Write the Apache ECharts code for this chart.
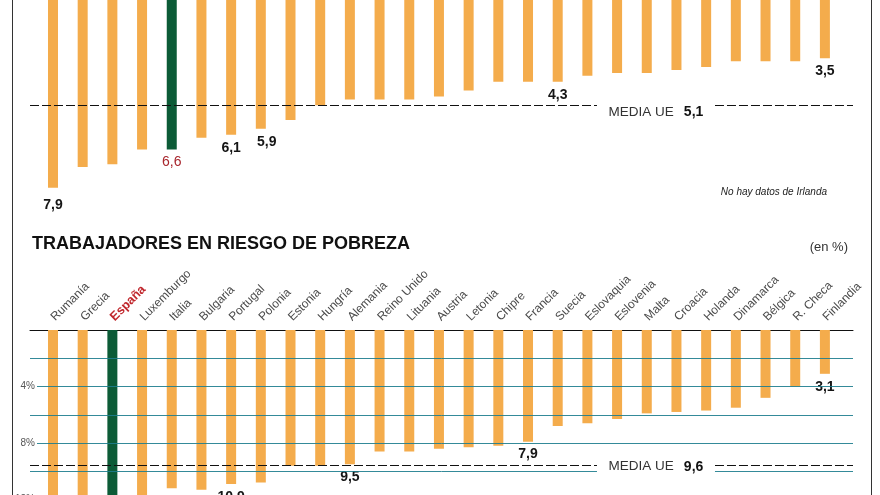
<!DOCTYPE html>
<html><head><meta charset="utf-8">
<script src="https://cdn.jsdelivr.net/npm/echarts@6/dist/echarts.min.js"></script>
<style>html,body{margin:0;padding:0;background:#fff}#c{width:880px;height:495px}</style>
</head><body><div id="c"></div>
<script>
// ---- Top panel (categories cropped out of the picture) ----
const topValues = [7.9, 7.2, 7.1, 6.6, 6.6, 6.2, 6.1, 5.9, 5.6, 5.1, 4.9, 4.9, 4.9, 4.8, 4.6, 4.3, 4.3, 4.3, 4.1, 4.0, 4.0, 3.9, 3.8, 3.6, 3.6, 3.6, 3.5];
const topLabeled = [0, 4, 6, 7, 17, 26];
const topHighlight = 4;
const topEuAverage = 5.1;
const topNote = 'No hay datos de Irlanda';

// ---- Bottom panel: trabajadores en riesgo de pobreza (%) ----
const countries = ['Rumanía','Grecia','España','Luxemburgo','Italia','Bulgaria','Portugal','Polonia','Estonia','Hungría','Alemania','Reino Unido','Lituania','Austria','Letonia','Chipre','Francia','Suecia','Eslovaquia','Eslovenia','Malta','Croacia','Holanda','Dinamarca','Bélgica','R. Checa','Finlandia'];
const workerValues = [18.9, 14.1, 13.1, 12.0, 11.2, 11.3, 10.9, 10.8, 9.6, 9.6, 9.5, 8.6, 8.6, 8.4, 8.3, 8.2, 7.9, 6.8, 6.6, 6.3, 5.9, 5.8, 5.7, 5.5, 4.8, 4.0, 3.1];
const workerLabeled = [6, 10, 16, 26];
const workerHighlight = 2;
const workerEuAverage = 9.6;
const workerTickLabels = [4, 8, 12];
const title = 'TRABAJADORES EN RIESGO DE POBREZA';
const unitNote = '(en %)';
const avgText = 'MEDIA UE';

// ---- styles / layout ----
const ORANGE = '#F4AC4C', GREEN = '#0C5B37', RED = '#A8262D', TEAL = 'rgba(30,125,142,0.9)';
const FONT = '"Liberation Sans", Arial, sans-serif';
const fmt = v => v.toFixed(1).replace('.', ',');
const LINE_LEFT = 30, LINE_W = 823;
const BAR_LEFT = 38.15, BAR_W = 801.6;
const TOP_TOP = -44.8, TOP_MAX = 8, TOP_PX = 29.43;
const BOT_TOP = 330, BOT_MAX = 12, BOT_PX = 14.13;
const GAP_FROM = 0.689, GAP_TO = 0.8323, GAP_MID = 0.7606;
const topLabelTweak = {0: {distance: 10}, 7: {offset: [6, 0]}};

function makeBarData(values, labeled, hi, tweak) {
  return values.map((v, i) => {
    const item = {value: v, itemStyle: {color: i === hi ? GREEN : ORANGE}};
    if (labeled.includes(i)) {
      item.label = Object.assign({
        show: true, position: 'bottom', distance: 6,
        color: i === hi ? RED : '#151515',
        fontWeight: i === hi ? 'normal' : 'bold',
        fontSize: 14, fontFamily: FONT,
        formatter: p => fmt(p.value)
      }, (tweak && tweak[i]) || {});
    }
    return item;
  });
}

function avgMarkers(value, labelOffset, boxH) {
  return {
    markLine: {
      silent: true, symbol: ['none', 'none'], animation: false,
      lineStyle: {type: [9, 3], color: '#111', width: 1},
      label: {show: false},
      data: [
        [{coord: [0, value]}, {coord: [GAP_FROM, value]}],
        [{coord: [GAP_TO, value]}, {coord: [1, value]}]
      ]
    },
    markPoint: {
      silent: true, animation: false,
      symbol: 'rect', symbolSize: [118, boxH],
      itemStyle: {color: '#fff'},
      label: {
        show: true, position: 'inside', offset: labelOffset,
        formatter: '{a|' + avgText + '}   {b|' + fmt(value) + '}',
        rich: {
          a: {fontSize: 13.5, color: '#333', fontFamily: FONT},
          b: {fontSize: 14, color: '#111', fontWeight: 'bold', fontFamily: FONT}
        }
      },
      data: [{coord: [GAP_MID, value]}]
    }
  };
}

const gridBase = {outerBoundsMode: 'none', containLabel: false};
const chart = echarts.init(document.getElementById('c'), null, {renderer: 'canvas'});
chart.setOption({
  animation: false,
  backgroundColor: '#fff',
  title: [
    {text: title, left: 27, top: 230, textStyle: {fontSize: 18, fontWeight: 'bold', color: '#111', fontFamily: FONT}},
    {text: unitNote, right: 27, top: 236, textStyle: {fontSize: 13, fontWeight: 'normal', color: '#333', fontFamily: FONT}},
    {text: topNote, right: 48, top: 182, textStyle: {fontSize: 10, fontStyle: 'italic', fontWeight: 'normal', color: '#222', fontFamily: FONT}}
  ],
  grid: [
    Object.assign({left: LINE_LEFT, width: LINE_W, top: TOP_TOP, height: TOP_MAX * TOP_PX}, gridBase),
    Object.assign({left: BAR_LEFT, width: BAR_W, top: TOP_TOP, height: TOP_MAX * TOP_PX}, gridBase),
    Object.assign({left: LINE_LEFT, width: LINE_W, top: BOT_TOP, height: BOT_MAX * BOT_PX}, gridBase),
    Object.assign({left: BAR_LEFT, width: BAR_W, top: BOT_TOP, height: BOT_MAX * BOT_PX}, gridBase)
  ],
  xAxis: [
    {gridIndex: 0, type: 'value', min: 0, max: 1, show: false},
    {gridIndex: 1, type: 'category', data: topValues.map((_, i) => String(i)), show: false},
    {gridIndex: 2, type: 'value', min: 0, max: 1, position: 'top', offset: 2,
     axisLine: {show: true, lineStyle: {color: '#111', width: 1}},
     axisTick: {show: false}, axisLabel: {show: false}, splitLine: {show: false}},
    {gridIndex: 3, type: 'category', data: countries, position: 'top',
     axisLine: {show: false}, axisTick: {show: false},
     axisLabel: {
       interval: 0, rotate: 45, margin: 11, fontSize: 12, color: '#4a4a4a', fontFamily: FONT,
       formatter: (v, i) => i === workerHighlight ? '{hl|' + v + '}' : v,
       rich: {hl: {fontSize: 12.5, fontWeight: 'bold', color: '#C0272D', fontFamily: FONT}}
     }}
  ],
  yAxis: [
    {gridIndex: 0, type: 'value', inverse: true, min: 0, max: TOP_MAX, show: false},
    {gridIndex: 1, type: 'value', inverse: true, min: 0, max: TOP_MAX, show: false},
    {gridIndex: 2, type: 'value', inverse: true, min: 0, max: BOT_MAX, interval: 2, z: 3,
     axisLine: {show: false}, axisTick: {show: false},
     splitLine: {show: true, showMinLine: false, lineStyle: {color: TEAL, width: 1}},
     axisLabel: {customValues: workerTickLabels, margin: -7, fontSize: 10, color: '#555', fontFamily: FONT,
       backgroundColor: '#fff', padding: [0, 2, 0, 2], formatter: v => v + '%'}},
    {gridIndex: 3, type: 'value', inverse: true, min: 0, max: BOT_MAX, show: false}
  ],
  series: [
    {type: 'bar', xAxisIndex: 1, yAxisIndex: 1, barWidth: 10, z: 2,
     data: makeBarData(topValues, topLabeled, topHighlight, topLabelTweak)},
    Object.assign({type: 'scatter', xAxisIndex: 0, yAxisIndex: 0, data: [], z: 4},
      avgMarkers(topEuAverage, [0, 7], 6)),
    {type: 'bar', xAxisIndex: 3, yAxisIndex: 3, barWidth: 10, z: 2,
     data: makeBarData(workerValues, workerLabeled, workerHighlight, null)},
    Object.assign({type: 'scatter', xAxisIndex: 2, yAxisIndex: 2, data: [], z: 4},
      avgMarkers(workerEuAverage, [0, 1], 16))
  ],
  graphic: [
    {type: 'line', shape: {x1: 12.5, y1: 0, x2: 12.5, y2: 495}, style: {stroke: '#333', lineWidth: 1}},
    {type: 'line', shape: {x1: 871.5, y1: 0, x2: 871.5, y2: 495}, style: {stroke: '#333', lineWidth: 1}}
  ]
});
</script></body></html>
